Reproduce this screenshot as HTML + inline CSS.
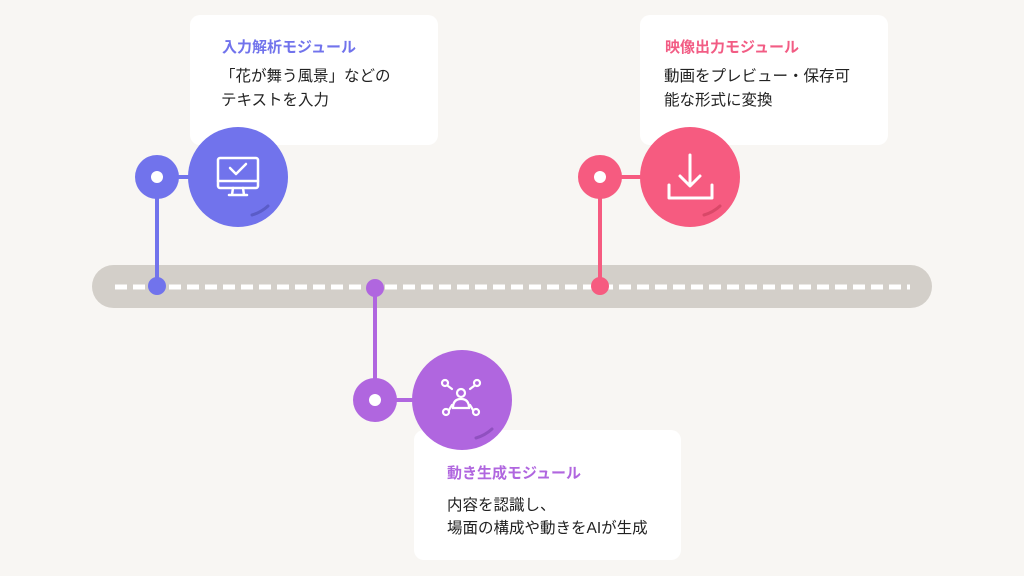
<!DOCTYPE html>
<html><head><meta charset="utf-8"><style>
html,body{margin:0;padding:0;background:#f8f6f3;}
svg{display:block}
text{font-family:"Liberation Sans","Noto Sans CJK JP",sans-serif;}
</style></head><body>
<svg width="1024" height="576" viewBox="0 0 1024 576" xmlns="http://www.w3.org/2000/svg">
<rect width="1024" height="576" fill="#f8f6f3"/>
<rect x="92" y="265" width="840" height="43" rx="21.5" fill="#d3cfc9"/>
<line x1="115" y1="287" x2="910" y2="287" stroke="#fff" stroke-width="5" stroke-dasharray="12 6"/>

<rect x="190" y="15" width="248" height="130" rx="10" fill="#fff"/>
<rect x="640" y="15" width="248" height="130" rx="10" fill="#fff"/>
<rect x="414" y="430" width="267" height="130" rx="10" fill="#fff"/>

<text x="222" y="52" font-size="15" font-weight="bold" fill="#7173ec">入力解析モジュール</text>
<text x="220" y="81" font-size="15.5" fill="#222">「花が舞う風景」などの</text>
<text x="221" y="105" font-size="15.5" fill="#222">テキストを入力</text>

<text x="665" y="52" font-size="15" font-weight="bold" fill="#f25c84">映像出力モジュール</text>
<text x="664" y="81" font-size="15.5" fill="#222">動画をプレビュー・保存可</text>
<text x="664" y="105" font-size="15.5" fill="#222">能な形式に変換</text>

<text x="447" y="478" font-size="15" font-weight="bold" fill="#b066df">動き生成モジュール</text>
<text x="447" y="510" font-size="15.5" fill="#222">内容を認識し、</text>
<text x="447" y="533" font-size="15.5" fill="#222">場面の構成や動きをAIが生成</text>

<line x1="157" y1="177" x2="157" y2="286" stroke="#7173ec" stroke-width="4"/>
<line x1="170" y1="177" x2="200" y2="177" stroke="#7173ec" stroke-width="4"/>
<circle cx="157" cy="286" r="9" fill="#7173ec"/>
<circle cx="157" cy="177" r="22" fill="#7173ec"/>
<circle cx="157" cy="177" r="6" fill="#fff"/>
<circle cx="238" cy="177" r="50" fill="#7173ec"/>
<path d="M252 215 A40 40 0 0 0 268 206" stroke="#5a5cc8" stroke-width="3" fill="none" stroke-linecap="round"/>
<g stroke="#fff" stroke-width="2.5" fill="none" stroke-linejoin="round" stroke-linecap="round">
<rect x="218" y="158" width="40" height="30" rx="2"/>
<line x1="218" y1="181" x2="258" y2="181"/>
<path d="M233 188 L232 195 M243 188 L244 195 M229 195 L247 195"/>
<path d="M230 168 L236 174 L246 164"/>
</g>

<line x1="600" y1="177" x2="600" y2="286" stroke="#f65b80" stroke-width="4"/>
<line x1="613" y1="177" x2="650" y2="177" stroke="#f65b80" stroke-width="4"/>
<circle cx="600" cy="286" r="9" fill="#f65b80"/>
<circle cx="600" cy="177" r="22" fill="#f65b80"/>
<circle cx="600" cy="177" r="6" fill="#fff"/>
<circle cx="690" cy="177" r="50" fill="#f65b80"/>
<path d="M704 215 A40 40 0 0 0 720 206" stroke="#d94868" stroke-width="3" fill="none" stroke-linecap="round"/>
<g stroke="#fff" stroke-width="3" fill="none" stroke-linecap="round" stroke-linejoin="round">
<path d="M669 185 L669 198 L712 198 L712 185"/>
<path d="M690 155 L690 185 M680 176 L690 186 L700 176"/>
</g>

<line x1="375" y1="288" x2="375" y2="400" stroke="#b066df" stroke-width="4"/>
<line x1="388" y1="400" x2="420" y2="400" stroke="#b066df" stroke-width="4"/>
<circle cx="375" cy="288" r="9" fill="#b066df"/>
<circle cx="375" cy="400" r="22" fill="#b066df"/>
<circle cx="375" cy="400" r="6" fill="#fff"/>
<circle cx="462" cy="400" r="50" fill="#b066df"/>
<path d="M476 438 A40 40 0 0 0 492 429" stroke="#9050c0" stroke-width="3" fill="none" stroke-linecap="round"/>
<g stroke="#fff" stroke-width="2.2" fill="none" stroke-linecap="round">
<circle cx="461" cy="393" r="4"/>
<path d="M453 408 Q453 399 461 399 Q469 399 469 408 Z"/>
<circle cx="445" cy="383" r="3"/><circle cx="477" cy="383" r="3"/>
<circle cx="446" cy="412" r="3"/><circle cx="476" cy="412" r="3"/>
<path d="M448 386 L452 389 M474 386 L470 389 M449 410 L452 405 M473 410 L470 405"/>
</g>
</svg>
</body></html>
